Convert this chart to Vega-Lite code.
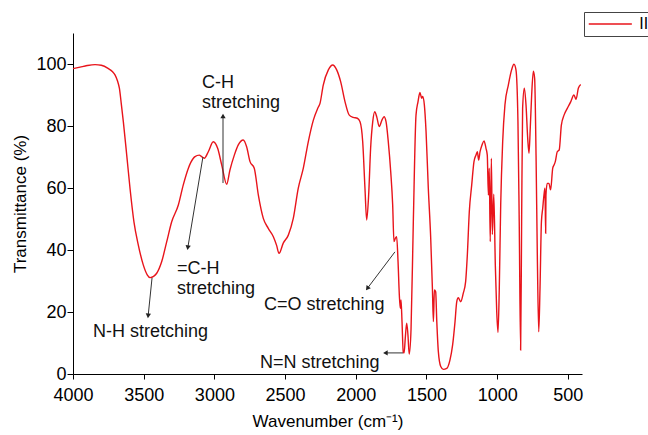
{
  "$schema": "https://vega.github.io/schema/vega-lite/v6.json",
  "width": 509,
  "height": 341,
  "autosize": {"type": "none"},
  "padding": {"left": 73, "top": 33, "right": 66, "bottom": 61},
  "background": "white",
  "config": {
    "view": {"stroke": null},
    "font": "Liberation Sans",
    "axis": {
      "grid": false,
      "domainColor": "#000",
      "domainWidth": 1,
      "tickColor": "#000",
      "tickWidth": 1,
      "labelColor": "#000",
      "labelFont": "Liberation Sans",
      "labelFontSize": 18,
      "titleFont": "Liberation Sans",
      "titleFontSize": 17,
      "titleFontWeight": "normal",
      "titleColor": "#000",
      "labelOverlap": false,
      "labelFlush": false
    }
  },
  "datasets": {
    "spectrum": [
      {"w": 4000, "t": 98.5}, {"w": 3950, "t": 99.0}, {"w": 3900, "t": 99.5}, {"w": 3844, "t": 99.8},
      {"w": 3800, "t": 99.6}, {"w": 3752, "t": 98.6}, {"w": 3720, "t": 97.5}, {"w": 3703, "t": 96.5},
      {"w": 3685, "t": 94.5}, {"w": 3672, "t": 92.2}, {"w": 3658, "t": 87}, {"w": 3644, "t": 81.4},
      {"w": 3620, "t": 70.6}, {"w": 3597, "t": 60}, {"w": 3569, "t": 49.1}, {"w": 3538, "t": 41.6},
      {"w": 3503, "t": 35.2}, {"w": 3475, "t": 32}, {"w": 3455, "t": 31.1}, {"w": 3430, "t": 31.5},
      {"w": 3408, "t": 32.5}, {"w": 3373, "t": 36.2}, {"w": 3337, "t": 42.7}, {"w": 3302, "t": 49.1},
      {"w": 3255, "t": 54.5}, {"w": 3220, "t": 61}, {"w": 3184, "t": 66.4}, {"w": 3150, "t": 69.5},
      {"w": 3137, "t": 70.1}, {"w": 3107, "t": 70.6}, {"w": 3090, "t": 70.1}, {"w": 3071, "t": 69.6},
      {"w": 3043, "t": 71.7}, {"w": 3008, "t": 74.9}, {"w": 2977, "t": 72.8}, {"w": 2948, "t": 67.4},
      {"w": 2913, "t": 61.2}, {"w": 2890, "t": 65.8}, {"w": 2859, "t": 70.6}, {"w": 2831, "t": 73.9},
      {"w": 2796, "t": 75.5}, {"w": 2772, "t": 73.3}, {"w": 2748, "t": 68.5}, {"w": 2718, "t": 66.4},
      {"w": 2689, "t": 57.7}, {"w": 2654, "t": 50.2}, {"w": 2619, "t": 47}, {"w": 2583, "t": 44.3},
      {"w": 2560, "t": 41.5}, {"w": 2543, "t": 38.9}, {"w": 2513, "t": 42.2}, {"w": 2477, "t": 44.8},
      {"w": 2442, "t": 50.2}, {"w": 2407, "t": 59.9}, {"w": 2371, "t": 66.4}, {"w": 2336, "t": 74.9},
      {"w": 2300, "t": 81.9}, {"w": 2269, "t": 85.7}, {"w": 2253, "t": 87.3}, {"w": 2230, "t": 93.2},
      {"w": 2194, "t": 98.1}, {"w": 2163, "t": 99.7}, {"w": 2135, "t": 98.1}, {"w": 2107, "t": 94.3},
      {"w": 2076, "t": 87.8}, {"w": 2046, "t": 83.5}, {"w": 2018, "t": 82.8}, {"w": 1989, "t": 82.5},
      {"w": 1970, "t": 81.4}, {"w": 1951, "t": 74.9}, {"w": 1935, "t": 59.9}, {"w": 1923, "t": 49.7},
      {"w": 1909, "t": 57.7}, {"w": 1895, "t": 72.8}, {"w": 1880, "t": 81.4}, {"w": 1866, "t": 84.6},
      {"w": 1852, "t": 83}, {"w": 1834, "t": 79.8}, {"w": 1815, "t": 81.9}, {"w": 1800, "t": 83},
      {"w": 1786, "t": 81.4}, {"w": 1770, "t": 74.9}, {"w": 1753, "t": 65.3}, {"w": 1739, "t": 54.5},
      {"w": 1730, "t": 42.7}, {"w": 1720, "t": 43.8}, {"w": 1711, "t": 44.3}, {"w": 1701, "t": 36.2},
      {"w": 1692, "t": 25.5}, {"w": 1685, "t": 21.2}, {"w": 1680, "t": 23.9}, {"w": 1673, "t": 16.9},
      {"w": 1664, "t": 7}, {"w": 1658, "t": 6.8}, {"w": 1650, "t": 11.5}, {"w": 1640, "t": 16.4},
      {"w": 1631, "t": 12.6}, {"w": 1622, "t": 6.4}, {"w": 1609, "t": 14.7}, {"w": 1593, "t": 49.1},
      {"w": 1574, "t": 83.5}, {"w": 1560, "t": 87.8}, {"w": 1546, "t": 90.8}, {"w": 1534, "t": 88.9},
      {"w": 1527, "t": 89.5}, {"w": 1515, "t": 86.8}, {"w": 1503, "t": 78.2}, {"w": 1487, "t": 59.9},
      {"w": 1470, "t": 43.8}, {"w": 1458, "t": 27.6}, {"w": 1451, "t": 16.9}, {"w": 1444, "t": 27.1},
      {"w": 1435, "t": 26.5}, {"w": 1427, "t": 16.9}, {"w": 1416, "t": 7.2}, {"w": 1399, "t": 2.4},
      {"w": 1381, "t": 1.5}, {"w": 1357, "t": 1.8}, {"w": 1334, "t": 4.5}, {"w": 1315, "t": 9.4},
      {"w": 1298, "t": 16.9}, {"w": 1286, "t": 23.3}, {"w": 1275, "t": 24.6}, {"w": 1258, "t": 23.3},
      {"w": 1240, "t": 26}, {"w": 1223, "t": 29.8}, {"w": 1211, "t": 38.4}, {"w": 1197, "t": 52.4},
      {"w": 1180, "t": 61}, {"w": 1164, "t": 68.5}, {"w": 1150, "t": 70.6}, {"w": 1140, "t": 71.7},
      {"w": 1131, "t": 69}, {"w": 1121, "t": 71.7}, {"w": 1107, "t": 73.9}, {"w": 1093, "t": 75.2},
      {"w": 1079, "t": 72.8}, {"w": 1070, "t": 70.6}, {"w": 1062, "t": 57.7}, {"w": 1056, "t": 66.4},
      {"w": 1049, "t": 42.7}, {"w": 1041, "t": 69.6}, {"w": 1034, "t": 45}, {"w": 1024, "t": 58},
      {"w": 1013, "t": 35}, {"w": 1003, "t": 20}, {"w": 994, "t": 13.4}, {"w": 985, "t": 27.6},
      {"w": 975, "t": 54.5}, {"w": 961, "t": 74.9}, {"w": 945, "t": 86.8}, {"w": 921, "t": 93.2},
      {"w": 898, "t": 98.1}, {"w": 881, "t": 99.9}, {"w": 867, "t": 98.1}, {"w": 853, "t": 81.4},
      {"w": 844, "t": 49.1}, {"w": 834, "t": 7.7}, {"w": 827, "t": 49.1}, {"w": 820, "t": 85.7},
      {"w": 808, "t": 92.2}, {"w": 796, "t": 86.8}, {"w": 784, "t": 76}, {"w": 775, "t": 71.2},
      {"w": 766, "t": 79.3}, {"w": 756, "t": 90}, {"w": 744, "t": 97.7}, {"w": 735, "t": 95.4},
      {"w": 725, "t": 70.6}, {"w": 716, "t": 38.4}, {"w": 706, "t": 13.6}, {"w": 697, "t": 27.6},
      {"w": 687, "t": 49.1}, {"w": 678, "t": 53.4}, {"w": 669, "t": 57.7}, {"w": 662, "t": 59.9},
      {"w": 657, "t": 45.4}, {"w": 655, "t": 57.7}, {"w": 646, "t": 61.5}, {"w": 634, "t": 61.5},
      {"w": 622, "t": 59.4}, {"w": 607, "t": 66.4}, {"w": 598, "t": 67.4}, {"w": 589, "t": 68.5},
      {"w": 575, "t": 71.7}, {"w": 561, "t": 72.3}, {"w": 546, "t": 80.3}, {"w": 527, "t": 83.5},
      {"w": 504, "t": 85.7}, {"w": 480, "t": 87.8}, {"w": 457, "t": 90}, {"w": 442, "t": 88.6},
      {"w": 426, "t": 92.2}, {"w": 409, "t": 93.4}
    ],
    "arrows": [
      {"name": "C-H", "w1": 2939, "t1": 61.6, "w2": 2939, "t2": 83.0, "dir": 0},
      {"name": "=C-H", "w1": 3081, "t1": 70, "w2": 3187, "t2": 41, "dir": 189},
      {"name": "N-H", "w1": 3441, "t1": 31, "w2": 3468, "t2": 19, "dir": 186},
      {"name": "C=O", "w1": 1723, "t1": 39.4, "w2": 1915, "t2": 27.8, "dir": 216},
      {"name": "N=N", "w1": 1666, "t1": 6.8, "w2": 1785, "t2": 6.8, "dir": 270}
    ],
    "labels": [
      {"label": "C-H", "w": 3088, "t": 93.9},
      {"label": "stretching", "w": 3088, "t": 87.4},
      {"label": "=C-H", "w": 3264, "t": 33.9},
      {"label": "stretching", "w": 3264, "t": 27.4},
      {"label": "N-H stretching", "w": 3859, "t": 13.5},
      {"label": "C=O stretching", "w": 2649, "t": 22.3},
      {"label": "N=N stretching", "w": 2677, "t": 3.6}
    ]
  },
  "layer": [
    {
      "data": {"name": "spectrum"},
      "mark": {"type": "line", "strokeWidth": 1.4, "interpolate": "monotone"},
      "encoding": {
        "x": {
          "field": "w", "type": "quantitative",
          "scale": {"domain": [400, 4000], "reverse": true, "nice": false, "zero": false},
          "axis": {
            "title": "Wavenumber (cm⁻¹)",
            "format": "d",
            "values": [4000, 3750, 3500, 3250, 3000, 2750, 2500, 2250, 2000, 1750, 1500, 1250, 1000, 750, 500],
            "labelExpr": "datum.value % 500 === 0 ? datum.label : ''",
            "tickSize": {"condition": {"test": "datum.value % 500 === 0", "value": 5}, "value": 3},
            "labelPadding": 7,
            "titlePadding": 9
          }
        },
        "y": {
          "field": "t", "type": "quantitative",
          "scale": {"domain": [0, 110], "nice": false, "zero": false},
          "axis": {
            "title": "Transmittance (%)",
            "format": "d",
            "values": [0, 10, 20, 30, 40, 50, 60, 70, 80, 90, 100, 110],
            "labelExpr": "datum.value % 20 === 0 ? datum.label : ''",
            "tickSize": {"condition": {"test": "datum.value % 20 === 0", "value": 6}, "value": 3},
            "labelPadding": 1,
            "titlePadding": 6
          }
        },
        "color": {
          "datum": "II",
          "type": "nominal",
          "scale": {"range": ["#e8141b"]},
          "legend": {
            "title": null,
            "orient": "none",
            "legendX": 511,
            "legendY": -21,
            "padding": 4,
            "strokeColor": "#444",
            "fillColor": "white",
            "symbolType": "M-4,0H4",
            "symbolSize": 116,
            "symbolOffset": 14.3,
            "symbolStrokeWidth": 1.6,
            "labelFontSize": 16,
            "labelColor": "#000",
            "labelOffset": 21
          }
        }
      }
    },
    {
      "data": {"name": "arrows"},
      "mark": {"type": "rule", "color": "#333", "strokeWidth": 1},
      "encoding": {
        "x": {"field": "w1", "type": "quantitative", "scale": {"domain": [400, 4000], "reverse": true, "nice": false, "zero": false}},
        "y": {"field": "t1", "type": "quantitative", "scale": {"domain": [0, 110], "nice": false, "zero": false}},
        "x2": {"field": "w2"},
        "y2": {"field": "t2"}
      }
    },
    {
      "data": {"name": "arrows"},
      "mark": {"type": "point", "shape": "triangle", "filled": true, "color": "#222", "size": 28, "opacity": 1},
      "encoding": {
        "x": {"field": "w2", "type": "quantitative", "scale": {"domain": [400, 4000], "reverse": true, "nice": false, "zero": false}},
        "y": {"field": "t2", "type": "quantitative", "scale": {"domain": [0, 110], "nice": false, "zero": false}},
        "angle": {"field": "dir", "type": "quantitative", "scale": null}
      }
    },
    {
      "data": {"name": "labels"},
      "mark": {"type": "text", "align": "left", "baseline": "middle", "fontSize": 18, "font": "Liberation Sans", "color": "#111"},
      "encoding": {
        "x": {"field": "w", "type": "quantitative", "scale": {"domain": [400, 4000], "reverse": true, "nice": false, "zero": false}},
        "y": {"field": "t", "type": "quantitative", "scale": {"domain": [0, 110], "nice": false, "zero": false}},
        "text": {"field": "label", "type": "nominal"}
      }
    }
  ]
}
